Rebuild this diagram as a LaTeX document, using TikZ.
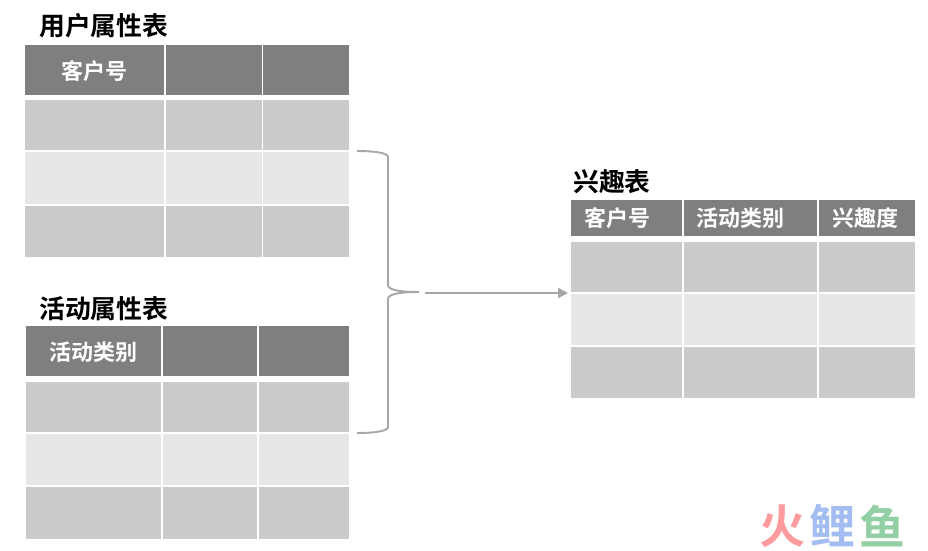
\documentclass[tikz,border=0pt]{standalone}
\usepackage{fontspec}
\setmainfont{Noto Sans CJK SC}[BoldFont={Noto Sans CJK SC Bold}]
\usetikzlibrary{arrows.meta}
\definecolor{headgray}{HTML}{7F7F7F}
\definecolor{darkrow}{HTML}{CBCBCB}
\definecolor{lightrow}{HTML}{E7E7E7}
\definecolor{linkgray}{HTML}{A6A6A6}
\definecolor{logored}{HTML}{FF9A9E}
\definecolor{logoblue}{HTML}{A3BDF2}
\definecolor{logogreen}{HTML}{93CFA5}
\tikzset{
    cell/.style={anchor=north west, inner sep=0pt, outer sep=0pt},
    headcell/.style={cell, fill=headgray},
    headtext/.style={inner sep=0pt, text=white, font=\fontsize{22}{22}\selectfont\bfseries},
    title/.style={anchor=west, inner sep=0pt, font=\fontsize{25.8}{26}\selectfont\bfseries},
    logo/.style={inner sep=0pt, font=\fontsize{46}{46}\selectfont\bfseries},
    link/.style={draw=linkgray, line width=1.9pt}
}
\begin{document}
\begin{tikzpicture}[x=1pt,y=-1pt]
    \useasboundingbox (0,0) rectangle (928,550);
    % user table
    \node[title] (userTitle) at (39,26) {用户属性表};
    \node[headcell, minimum width=139pt, minimum height=50pt] (uh1) at (25,44.5) {};
    \node[headcell, minimum width=96pt, minimum height=50pt] (uh2) at (166,44.5) {};
    \node[headcell, minimum width=86pt, minimum height=50pt] (uh3) at (263,44.5) {};
    \node[headtext] (uh1text) at (94,71) {客户号};
    \foreach \name/\ytop/\rowh/\col in {1/100/50/darkrow,2/152/52/lightrow,3/206/51/darkrow} {
        \node[cell, fill=\col, minimum width=139pt, minimum height=\rowh pt] (ur\name a) at (25,\ytop) {};
        \node[cell, fill=\col, minimum width=96pt, minimum height=\rowh pt] (ur\name b) at (166,\ytop) {};
        \node[cell, fill=\col, minimum width=86pt, minimum height=\rowh pt] (ur\name c) at (263,\ytop) {};
    }
    % activity table
    \node[title] (actTitle) at (39,309) {活动属性表};
    \node[headcell, minimum width=135pt, minimum height=50pt] (ah1) at (26,326) {};
    \node[headcell, minimum width=94pt, minimum height=50pt] (ah2) at (163,326) {};
    \node[headcell, minimum width=90pt, minimum height=50pt] (ah3) at (259,326) {};
    \node[headtext] (ah1text) at (93.5,352.5) {活动类别};
    \foreach \name/\ytop/\rowh/\col in {1/382/50/darkrow,2/434/51/lightrow,3/487/52/darkrow} {
        \node[cell, fill=\col, minimum width=135pt, minimum height=\rowh pt] (ar\name a) at (26,\ytop) {};
        \node[cell, fill=\col, minimum width=94pt, minimum height=\rowh pt] (ar\name b) at (163,\ytop) {};
        \node[cell, fill=\col, minimum width=90pt, minimum height=\rowh pt] (ar\name c) at (259,\ytop) {};
    }
    % interest table
    \node[title] (intTitle) at (573,182) {兴趣表};
    \node[headcell, minimum width=111pt, minimum height=36pt] (ih1) at (571,200) {};
    \node[headcell, minimum width=133pt, minimum height=36pt] (ih2) at (684,200) {};
    \node[headcell, minimum width=96pt, minimum height=36pt] (ih3) at (819,200) {};
    \node[headtext] (ih1text) at (617,218.5) {客户号};
    \node[headtext] (ih2text) at (740,218.5) {活动类别};
    \node[headtext] (ih3text) at (865,218.5) {兴趣度};
    \foreach \name/\ytop/\rowh/\col in {1/242/50/darkrow,2/294/51/lightrow,3/347/51/darkrow} {
        \node[cell, fill=\col, minimum width=111pt, minimum height=\rowh pt] (ir\name a) at (571,\ytop) {};
        \node[cell, fill=\col, minimum width=133pt, minimum height=\rowh pt] (ir\name b) at (684,\ytop) {};
        \node[cell, fill=\col, minimum width=96pt, minimum height=\rowh pt] (ir\name c) at (819,\ytop) {};
    }
    % brace and arrow
    \coordinate (braceTop) at (357,151);
    \coordinate (braceTip) at (419,292);
    \coordinate (braceEnd) at (357,433);
    \coordinate (arrowStart) at (425,293);
    \coordinate (arrowEnd) at (568,293);
    \draw[link] (braceTop) .. controls (375,151) and (388,153) .. (388,157)
        -- (388,285) .. controls (388,290) and (400,292) .. (braceTip)
        .. controls (400,292) and (388,294) .. (388,299)
        -- (388,427) .. controls (388,431) and (375,433) .. (braceEnd);
    \draw[link, -{Triangle[length=10pt,width=10pt]}] (arrowStart) -- (arrowEnd);
    % logo
    \node[logo, text=logored] (logoA) at (782,526) {火};
    \node[logo, text=logoblue] (logoB) at (832,526) {鲤};
    \node[logo, text=logogreen] (logoC) at (882,526) {鱼};
\end{tikzpicture}
\end{document}
